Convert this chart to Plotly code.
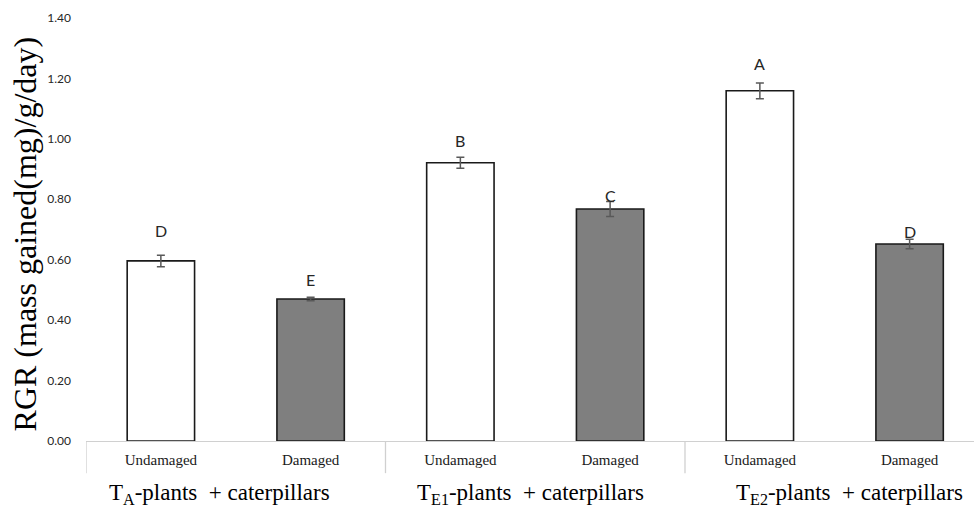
import plotly.graph_objects as go

# ---- data ----
conditions = ["Undamaged", "Damaged", "Undamaged", "Damaged", "Undamaged", "Damaged"]
rgr_values = [0.596, 0.470, 0.921, 0.768, 1.159, 0.652]
rgr_errors = [0.019, 0.006, 0.018, 0.025, 0.026, 0.016]
sig_letters = ["D", "E", "B", "C", "A", "D"]
letter_y = [0.698, 0.536, 0.996, 0.811, 1.248, 0.695]
group_labels = ["T<sub>A</sub>-plants \u00a0+ caterpillars",
                "T<sub>E1</sub>-plants \u00a0+ caterpillars",
                "T<sub>E2</sub>-plants \u00a0+ caterpillars"]
group_label_pos = [0.39, 2.47, 4.60]
y_ticks = [0.0, 0.2, 0.4, 0.6, 0.8, 1.0, 1.2, 1.4]
group_dividers = [-0.5, 1.5, 3.5]

xpos = list(range(len(conditions)))
fills = ["#ffffff" if c == "Undamaged" else "#7f7f7f" for c in conditions]

fig = go.Figure()
fig.add_trace(go.Bar(
    x=xpos, y=rgr_values, width=0.45,
    marker=dict(color=fills, line=dict(color="#1a1a1a", width=1.6)),
    error_y=dict(type="data", array=rgr_errors, visible=True,
                 color="#595959", thickness=1.5, width=4),
    showlegend=False, hoverinfo="y",
))

for xi, lt, ly in zip(xpos, sig_letters, letter_y):
    fig.add_annotation(x=xi, y=ly, text=lt, showarrow=False,
                       xref="x", yref="y", yanchor="middle",
                       font=dict(family="Lato, sans-serif", size=16, color="#262626"))

for gx, gl in zip(group_label_pos, group_labels):
    fig.add_annotation(x=gx, y=-0.126, text=gl, showarrow=False,
                       xref="x", yref="paper", yanchor="middle",
                       font=dict(family="Liberation Serif, Times New Roman, serif",
                                 size=23, color="#000000"))

for d in group_dividers:
    fig.add_shape(type="line", x0=d, x1=d, xref="x", y0=0, y1=-0.076,
                  yref="paper", line=dict(color="#d0d0d0", width=1.3))

fig.add_annotation(x=-0.069, y=0.49, xref="paper", yref="paper",
                   text="RGR (mass gained(mg)/g/day)", textangle=-90,
                   showarrow=False, xanchor="center", yanchor="middle",
                   font=dict(family="Liberation Serif, Times New Roman, serif",
                             size=32, color="#000000"))

fig.update_layout(
    width=974, height=509,
    margin=dict(l=86, r=0, t=18, b=68),
    paper_bgcolor="#ffffff", plot_bgcolor="#ffffff",
    xaxis=dict(range=[-0.5, 5.43], tickvals=xpos, ticktext=conditions,
               showgrid=False, zeroline=False, showline=True,
               linecolor="#d0d0d0", linewidth=1.3, ticks="",
               ticklabelstandoff=5,
               tickfont=dict(family="Liberation Serif, Times New Roman, serif",
                             size=15, color="#1a1a1a")),
    yaxis=dict(range=[0, 1.4], tickvals=y_ticks,
               ticktext=[f"{v:.2f}" for v in y_ticks],
               showgrid=False, zeroline=False, showline=False, ticks="",
               ticklabelstandoff=14,
               tickfont=dict(family="Lato, sans-serif", size=12, color="#262626")),
    bargap=0.5,
)

fig.write_html("out.html", config={"displayModeBar": False},
               post_script="document.body.style.margin='0';document.body.style.overflow='hidden';")
